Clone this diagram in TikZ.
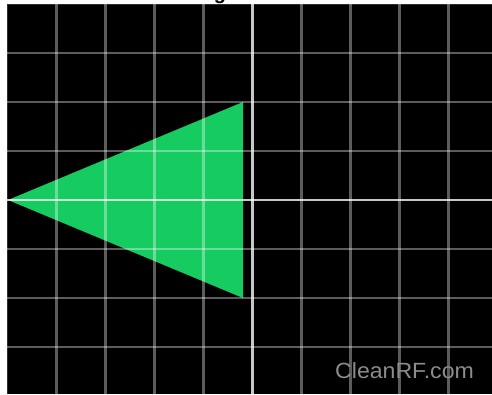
\documentclass[tikz,border=0pt]{standalone}
\usepackage{fontspec}
\setmainfont{Liberation Sans}
\definecolor{scopegreen}{RGB}{22,204,96}
\definecolor{markgray}{RGB}{140,140,140}
\tikzset{
  minorline/.style={white, opacity=0.36, line width=2.2pt},
  axisline/.style={white, opacity=0.78, line width=2.8pt},
  borderline/.style={white, opacity=0.18, line width=1.5pt},
}
\begin{document}
\begin{tikzpicture}[x=1pt,y=-1pt]
\useasboundingbox (0,0) rectangle (492,394);
\begin{scope}
\clip (0,0) rectangle (492,394);
\fill[white] (0,0) rectangle (492,394);
% screen
\fill[black] (7,4) rectangle (492,394);
% clipped title descender
\node[anchor=base, inner sep=0pt, font=\bfseries\fontsize{20}{24}\selectfont, text=black] (title) at (220,-1) {g};
% trace
\fill[scopegreen] (8,200) -- (243,102) -- (243,298) -- cycle;
% border lines
\draw[borderline] (7.5,394) -- (7.5,4.5) -- (492,4.5);
% grid
\foreach \k in {1,2,3,4,6,7,8,9} {
  \draw[minorline] ({7.5+49*\k},4) -- ({7.5+49*\k},394);
}
\foreach \k in {1,2,3,5,6,7} {
  \draw[minorline] (7,{4+49*\k}) -- (492,{4+49*\k});
}
\draw[axisline] (252.5,4) -- (252.5,394);
\draw[axisline] (7,200) -- (492,200);
% watermark
\node[anchor=base west, inner sep=0pt, text=markgray, font=\fontsize{22}{26}\selectfont, xscale=1.05] (mark) at (335,378) {CleanRF.com};
\end{scope}
\end{tikzpicture}
\end{document}
